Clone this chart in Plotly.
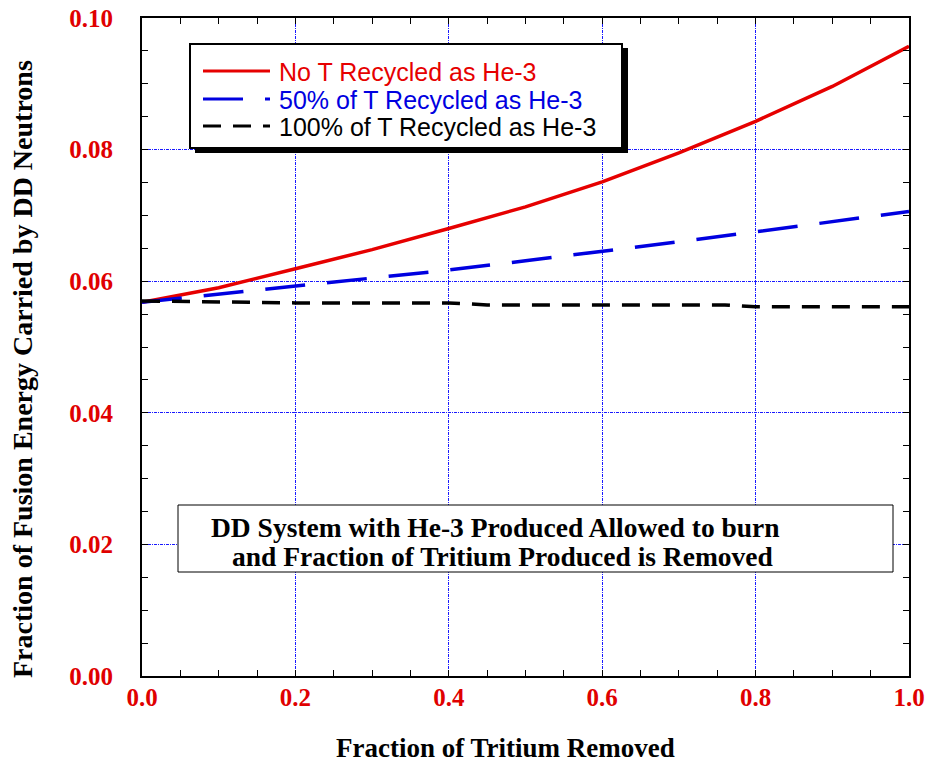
import plotly.graph_objects as go

# ---- data ----
x_red = [0.0, 0.1, 0.2, 0.3, 0.4, 0.5, 0.6, 0.7, 0.8, 0.9, 1.0]
y_red = [0.0568, 0.0590, 0.0619, 0.0648, 0.0680, 0.0713, 0.0751, 0.0795, 0.0843, 0.0896, 0.0957]

x_blue = [0.0, 0.1, 0.2, 0.3, 0.4, 0.5, 0.6, 0.7, 0.8, 0.9, 1.0]
y_blue = [0.0568, 0.0580, 0.0592, 0.0604, 0.0617, 0.0631, 0.0645, 0.0660, 0.0675, 0.0690, 0.0706]

x_black = [0.0, 0.1, 0.2, 0.4, 0.45, 0.6, 0.76, 0.8, 1.0]
y_black = [0.0570, 0.0568, 0.0567, 0.0567, 0.0564, 0.0564, 0.0564, 0.0561, 0.0561]

series_names = ["No T Recycled as He-3", "50% of T Recycled as He-3", "100% of T Recycled as He-3"]
series_colors = ["#e60000", "#0000e0", "#000000"]
series_dash = ["solid", "40px,22px", "18px,12px"]

x_title = "Fraction of Tritium Removed"
y_title = "Fraction of Fusion Energy Carried by DD Neutrons"
note_lines = ["DD System with He-3 Produced Allowed to burn",
              "and Fraction of Tritium Produced is Removed"]

W, H = 930, 767
L, R, T, B = 142, 909, 18, 676


def px(p):
    return (p - L) / (R - L)


def py(p):
    return (B - p) / (B - T)


fig = go.Figure()
for xs, ys, name, col, dash in zip([x_red, x_blue, x_black], [y_red, y_blue, y_black],
                                   series_names, series_colors, series_dash):
    fig.add_trace(go.Scatter(x=xs, y=ys, mode="lines", name=name,
                             line=dict(color=col, width=3.5, dash=dash),
                             showlegend=False, cliponaxis=True))

serif = "Liberation Serif"
sans = "Liberation Sans"
tickfont = dict(family=serif, size=25, color="#e00000", weight="bold")

axis_common = dict(showline=True, linecolor="black", linewidth=2, mirror="ticks",
                   ticks="inside", ticklen=6, tickcolor="black", tickwidth=1,
                   showgrid=True, gridcolor="#1a1aff", griddash="3px,1px,1px,1px", gridwidth=1,
                   zeroline=False, tickfont=tickfont, automargin=False)

fig.update_xaxes(range=[0, 1], dtick=0.2, tick0=0, tickformat=".1f",
                 minor=dict(dtick=0.05, ticks="inside", ticklen=6, tickcolor="black", showgrid=False),
                 ticklabelstandoff=-2, **axis_common)
fig.update_yaxes(range=[0, 0.1], dtick=0.02, tick0=0, tickformat=".2f",
                 minor=dict(dtick=0.005, ticks="inside", ticklen=6, tickcolor="black", showgrid=False),
                 ticklabelstandoff=22, **axis_common)

shapes = []
annotations = []

# legend box with shadow
shapes.append(dict(type="rect", xref="paper", yref="paper",
                   x0=px(195), x1=px(628), y0=py(48), y1=py(153),
                   fillcolor="black", line=dict(width=0), layer="above"))
shapes.append(dict(type="rect", xref="paper", yref="paper",
                   x0=px(190), x1=px(622), y0=py(44), y1=py(148),
                   fillcolor="white", line=dict(color="black", width=2), layer="above"))
rows = [71, 99, 126]
for name, col, dash, ry in zip(series_names, series_colors, series_dash, rows):
    shapes.append(dict(type="line", xref="paper", yref="paper",
                       x0=px(203), x1=px(270), y0=py(ry), y1=py(ry),
                       line=dict(color=col, width=3, dash=dash), layer="above"))
    annotations.append(dict(text=name, xref="paper", yref="paper", x=px(277), y=py(ry + 1),
                            xanchor="left", yanchor="middle", showarrow=False,
                            font=dict(family=sans, size=25, color=col)))

# note box
shapes.append(dict(type="rect", xref="paper", yref="paper",
                   x0=px(178), x1=px(893), y0=py(505), y1=py(572),
                   fillcolor="white", line=dict(color="black", width=1), layer="above"))
notefont = dict(family=serif, size=27.5, color="black", weight="bold")
annotations.append(dict(text=note_lines[0], xref="paper", yref="paper", x=px(209), y=py(527),
                        xanchor="left", yanchor="middle", showarrow=False, font=notefont))
annotations.append(dict(text=note_lines[1], xref="paper", yref="paper", x=px(230), y=py(556),
                        xanchor="left", yanchor="middle", showarrow=False, font=notefont))

# axis titles
annotations.append(dict(text=x_title, xref="paper", yref="paper", x=px(505), y=py(748),
                        xanchor="center", yanchor="middle", showarrow=False,
                        font=dict(family=serif, size=27, color="black", weight="bold")))
annotations.append(dict(text=y_title, xref="paper", yref="paper", x=px(22), y=py(369),
                        xanchor="center", yanchor="middle", showarrow=False, textangle=-90,
                        font=dict(family=serif, size=28, color="black", weight="bold")))

fig.update_layout(width=W, height=H, margin=dict(l=L, r=W - R, t=T, b=H - B),
                  paper_bgcolor="white", plot_bgcolor="white",
                  shapes=shapes, annotations=annotations, showlegend=False)

fig.write_html("out.html")
